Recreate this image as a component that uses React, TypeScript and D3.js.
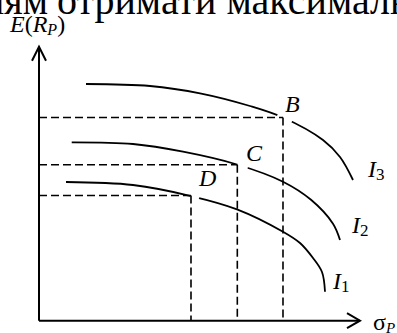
import React from "react";
import * as d3 from "d3";

// Indifference curves (σ_P, E(R_P)) in arbitrary units
const curveI3: [number, number][] = [
  [1.464, 8.639], [3.458, 8.566], [5.016, 8.299], [6.573, 7.836], [7.601, 7.416],
  [8.847, 6.595], [9.377, 5.974], [9.782, 5.135],
];
const curveI2: [number, number][] = [
  [1.019, 6.511], [2.928, 6.449], [4.486, 6.168], [6.168, 5.701], [7.601, 5.073],
  [8.474, 4.412], [9.159, 3.540], [9.377, 2.945],
];
const curveI1: [number, number][] = [
  [0.841, 5.062], [2.928, 4.953], [4.735, 4.551], [6.168, 4.066], [7.601, 3.248],
  [8.131, 2.836], [8.536, 2.288], [8.816, 1.777], [8.910, 1.058],
];
const points = [
  { name: "B", x: 7.601, y: 7.416 },
  { name: "C", x: 6.178, y: 5.693 },
  { name: "D", x: 4.735, y: 4.569 },
];
const curveNames = ["3", "2", "1"];
const headText = ["нням", "отримати максимальний"];

const W = 397, H = 333;
const x = d3.scaleLinear().domain([0, 10]).range([39, 360]);
const y = d3.scaleLinear().domain([0, 10]).range([320.7, 46.7]);
const line = d3.line<[number, number]>().x(d => x(d[0])).y(d => y(d[1])).curve(d3.curveCatmullRom.alpha(0.5));

const serif = "Liberation Serif";

export default function App() {
  const curves = [curveI3, curveI2, curveI1];
  const gaps = [
    { cx: 284.5, cy: 118.5, r: 8 },
    { cx: 242.5, cy: 166.5, r: 5.5 },
    { cx: 195, cy: 196.5, r: 4.5 },
  ];
  const curveLabels = [
    { x: 368, y: 177, sub: curveNames[0] },
    { x: 352, y: 233, sub: curveNames[1] },
    { x: 333, y: 289, sub: curveNames[2] },
  ];
  const ptLabels = [
    { x: 285, y: 112 },
    { x: 246, y: 161 },
    { x: 199, y: 186 },
  ];
  const x0 = x(0), y0 = y(0);
  const ts = { fontFamily: serif };
  return (
    <svg width={W} height={H} style={{ position: "absolute", left: 0, top: 0, background: "#fff", fontFamily: serif }}>
      <rect x={0} y={0} width={W} height={H} fill="#fff" />
      {/* clipped heading text */}
      <text x={48} y={14} fontSize={40} textAnchor="end" fill="#000" style={ts}>{headText[0]}</text>
      <text x={57} y={14} fontSize={40} fill="#000" style={ts}>{headText[1]}</text>

      {/* curves */}
      {curves.map((c, i) => (
        <path key={i} d={line(c) || ""} fill="none" stroke="#000" strokeWidth={1.8} />
      ))}
      {gaps.map((g, i) => (
        <circle key={i} cx={g.cx} cy={g.cy} r={g.r} fill="#fff" />
      ))}

      {/* dashed guides */}
      {points.map((p, i) => (
        <g key={i} stroke="#000" strokeWidth={1.6} strokeDasharray="8 4" fill="none">
          <line x1={x0} y1={y(p.y)} x2={x(p.x)} y2={y(p.y)} />
          <line x1={x(p.x)} y1={y(p.y)} x2={x(p.x)} y2={y0} />
        </g>
      ))}

      {/* axes */}
      <g stroke="#000" strokeWidth={2} fill="none">
        <line x1={x0} y1={y0} x2={x0} y2={y(10)} />
        <line x1={x0} y1={y0} x2={x(10)} y2={y0} />
        <polyline points={`${x0 - 7},${y(10) + 14} ${x0},${y(10)} ${x0 + 7},${y(10) + 14}`} />
        <polyline points={`${x(10) - 13},${y0 - 7.5} ${x(10)},${y0} ${x(10) - 13},${y0 + 7.5}`} />
      </g>

      {/* axis labels */}
      <text x={10} y={32} fontSize={24} fill="#000" style={ts}>
        <tspan fontStyle="italic">E</tspan>
        <tspan>(</tspan>
        <tspan fontStyle="italic">R</tspan>
        <tspan fontStyle="italic" fontSize={16} dy={3}>P</tspan>
        <tspan dy={-3}>)</tspan>
      </text>
      <text x={373} y={330} fontSize={24} fill="#000" style={ts}>
        <tspan>σ</tspan>
        <tspan fontStyle="italic" fontSize={15} dy={3}>P</tspan>
      </text>

      {/* point labels */}
      {points.map((p, i) => (
        <text key={i} x={ptLabels[i].x} y={ptLabels[i].y} fontSize={24} fontStyle="italic" fill="#000" style={ts}>{p.name}</text>
      ))}
      {curveLabels.map((l, i) => (
        <text key={i} x={l.x} y={l.y} fontSize={24} fill="#000" style={ts}>
          <tspan fontStyle="italic">I</tspan>
          <tspan fontSize={17} dy={3}>{l.sub}</tspan>
        </text>
      ))}
    </svg>
  );
}
